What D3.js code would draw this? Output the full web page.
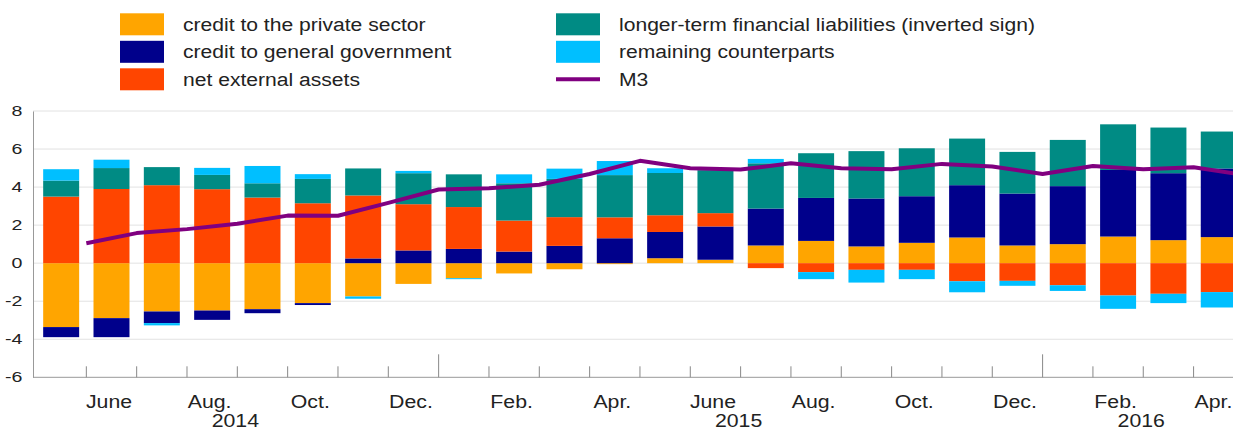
<!DOCTYPE html>
<html>
<head>
<meta charset="utf-8">
<script src="https://cdn.jsdelivr.net/npm/d3@7"></script>
<style>
  body { margin: 0; background: #fff; }
  svg { display: block; font-family: "Liberation Sans", Arial, sans-serif; }
</style>
</head>
<body>
<svg id="chart"></svg>
<script>
const width = 1233;
const height = 429;

// months shown, May 2014 to Apr 2016
const months = [
  "2014-05", "2014-06", "2014-07", "2014-08", "2014-09", "2014-10", "2014-11", "2014-12",
  "2015-01", "2015-02", "2015-03", "2015-04", "2015-05", "2015-06", "2015-07", "2015-08",
  "2015-09", "2015-10", "2015-11", "2015-12", "2016-01", "2016-02", "2016-03", "2016-04"
];
const monthLabels = [
  "", "June", "", "Aug.", "", "Oct.", "", "Dec.",
  "", "Feb.", "", "Apr.", "", "June", "", "Aug.",
  "", "Oct.", "", "Dec.", "", "Feb.", "", "Apr."
];
const years = ["2014", "2015", "2016"];

const privateCredit = [-3.36, -2.89, -2.54, -2.49, -2.42, -2.10, -1.75, -1.09, -0.79, -0.54, -0.32, -0.05,
  0.26, 0.18, 0.93, 1.17, 0.88, 1.07, 1.35, 0.93, 1.00, 1.40, 1.21, 1.37];
const govCredit = [-0.53, -1.00, -0.61, -0.49, -0.21, -0.10, 0.25, 0.67, 0.75, 0.61, 0.91, 1.31,
  1.38, 1.75, 1.94, 2.26, 2.52, 2.45, 2.75, 2.73, 3.05, 3.50, 3.52, 3.61];
const netExternal = [3.50, 3.90, 4.10, 3.89, 3.45, 3.15, 3.31, 2.43, 2.20, 1.63, 1.51, 1.10,
  0.88, 0.70, -0.26, -0.47, -0.35, -0.35, -0.95, -0.93, -1.16, -1.70, -1.61, -1.52];
const longerTerm = [0.84, 1.10, 0.95, 0.75, 0.75, 1.28, 1.42, 1.63, 1.72, 1.96, 2.01, 2.22,
  2.22, 2.26, 2.38, 2.35, 2.49, 2.52, 2.45, 2.19, 2.43, 2.40, 2.40, 1.94];
const remaining = [0.60, 0.44, -0.12, 0.37, 0.91, 0.25, -0.12, 0.12, -0.05, 0.47, 0.54, 0.74,
  0.25, 0.00, 0.23, -0.37, -0.67, -0.49, -0.58, -0.26, -0.30, -0.70, -0.49, -0.81];
const m3 = [1.05, 1.58, 1.79, 2.07, 2.50, 2.49, 3.17, 3.87, 3.94, 4.12, 4.69, 5.38,
  4.99, 4.92, 5.25, 4.99, 4.94, 5.22, 5.08, 4.69, 5.11, 4.94, 5.04, 4.64];

const yTicks = [-6, -4, -2, 0, 2, 4, 6, 8];

const seriesKeys = ["private", "gov", "nea", "ltfl", "rem"];
const seriesNames = [
  "credit to the private sector",
  "credit to general government",
  "net external assets",
  "longer-term financial liabilities (inverted sign)",
  "remaining counterparts"
];
const colors = ["#ffa500", "#00008b", "#ff4500", "#008b84", "#00bfff"];
const lineColor = "#800080";

const table = months.map((m, i) => ({
  month: m,
  private: privateCredit[i],
  gov: govCredit[i],
  nea: netExternal[i],
  ltfl: longerTerm[i],
  rem: remaining[i]
}));

// the reference type is a little wider than Liberation Sans
const labelStretch = 1.12;
const legendStretch = 1.11;
const yStretch = 1.4;

const svg = d3.select("#chart").attr("width", width).attr("height", height);

const plotLeft = 33;
const x = d3.scaleBand()
  .domain(months)
  .range([36, 36 + 24 * 50.33])
  .paddingInner(0.285)
  .paddingOuter(0.1425);
const step = x.step();

const y = d3.scaleLinear().domain([-6, 8]).range([377.3, 111]);

// gridlines
svg.append("g")
  .selectAll("line")
  .data(yTicks.filter((d) => d > -6))
  .enter()
  .append("line")
  .attr("x1", plotLeft)
  .attr("x2", width)
  .attr("y1", (d) => y(d))
  .attr("y2", (d) => y(d))
  .attr("stroke", "#e2e2e2")
  .attr("stroke-width", 1);

// stacked bars
const stack = d3.stack().keys(seriesKeys).offset(d3.stackOffsetDiverging);
const layers = stack(table);

svg.append("g")
  .selectAll("g")
  .data(layers)
  .enter()
  .append("g")
  .attr("fill", (d, i) => colors[i])
  .selectAll("rect")
  .data((d) => d)
  .enter()
  .append("rect")
  .attr("x", (d) => x(d.data.month))
  .attr("width", x.bandwidth())
  .attr("y", (d) => y(Math.max(d[0], d[1])))
  .attr("height", (d) => Math.abs(y(d[0]) - y(d[1])));

// M3 line, plotted at the right-hand boundary of each month
const boundary = (m) => x(m) + x.bandwidth() + (step - x.bandwidth()) / 2;
const line = d3.line()
  .x((d, i) => boundary(months[i]))
  .y((d) => y(d));

svg.append("path")
  .datum(m3)
  .attr("d", line)
  .attr("fill", "none")
  .attr("stroke", lineColor)
  .attr("stroke-width", 4)
  .attr("stroke-linejoin", "round");

// y axis
const yAxis = svg.append("g")
  .attr("transform", `translate(${plotLeft},0)`)
  .call(d3.axisLeft(y).tickValues(yTicks).tickSize(0).tickFormat((d) => String(d)));
yAxis.select(".domain").attr("stroke", "#999");
yAxis.selectAll("text")
  .attr("x", -10.5 / yStretch)
  .attr("transform", `scale(${yStretch},1)`)
  .attr("font-size", 14)
  .attr("fill", "#222")
  .style("font-family", "Liberation Sans, Arial, sans-serif");

// x axis: labels under bars
const xAxis = svg.append("g")
  .attr("transform", `translate(-2.5,${y(-6)})`)
  .call(d3.axisBottom(x).tickSize(0).tickPadding(17).tickFormat((d, i) => monthLabels[i]));
xAxis.select(".domain").remove();
xAxis.selectAll("text")
  .attr("transform", `scale(${labelStretch},1)`)
  .attr("dx", (d, i) => (i === months.length - 1 ? -2.5 : 0))
  .attr("font-size", 19)
  .attr("fill", "#222")
  .style("font-family", "Liberation Sans, Arial, sans-serif");

svg.append("line")
  .attr("x1", plotLeft)
  .attr("x2", width)
  .attr("y1", y(-6))
  .attr("y2", y(-6))
  .attr("stroke", "#999");

// month boundary ticks, longer at year changes
svg.append("g")
  .selectAll("line")
  .data(months)
  .enter()
  .append("line")
  .attr("x1", (d) => boundary(d))
  .attr("x2", (d) => boundary(d))
  .attr("y1", y(-6))
  .attr("y2", (d, i) => (months[i + 1] && months[i + 1].endsWith("-01") ? y(-6) - 23 : y(-6) - 11))
  .attr("stroke", "#888");

// year labels centred on each year's months
svg.append("g")
  .selectAll("text")
  .data(years)
  .enter()
  .append("text")
  .attr("transform", (yr) => {
    const ms = months.filter((m) => m.startsWith(yr));
    const cx = (x(ms[0]) + x(ms[ms.length - 1]) + x.bandwidth()) / 2 - 2;
    return `translate(${cx},426.5) scale(${labelStretch},1)`;
  })
  .attr("text-anchor", "middle")
  .attr("font-size", 19)
  .attr("fill", "#222")
  .text((d) => d);

// legend
const legend = svg.append("g").attr("font-size", 19).attr("fill", "#222");
const legendItems = seriesNames.map((name, i) => ({
  name,
  color: colors[i],
  col: i < 3 ? 0 : 1,
  row: i < 3 ? i : i - 3
}));
legendItems.push({ name: "M3", color: lineColor, col: 1, row: 2, isLine: true });

const colX = [120, 556];
legendItems.forEach((d) => {
  const lx = colX[d.col];
  const ly = 13.3 + d.row * 27.5;
  if (d.isLine) {
    legend.append("line")
      .attr("x1", lx)
      .attr("x2", lx + 44)
      .attr("y1", ly + 11)
      .attr("y2", ly + 11)
      .attr("stroke", d.color)
      .attr("stroke-width", 4);
  } else {
    legend.append("rect")
      .attr("x", lx)
      .attr("y", ly)
      .attr("width", 44)
      .attr("height", 22)
      .attr("fill", d.color);
  }
  legend.append("text")
    .attr("transform", `translate(${lx + 63},${ly + 11}) scale(${legendStretch},1)`)
    .attr("dy", "0.35em")
    .text(d.name);
});
</script>
</body>
</html>
